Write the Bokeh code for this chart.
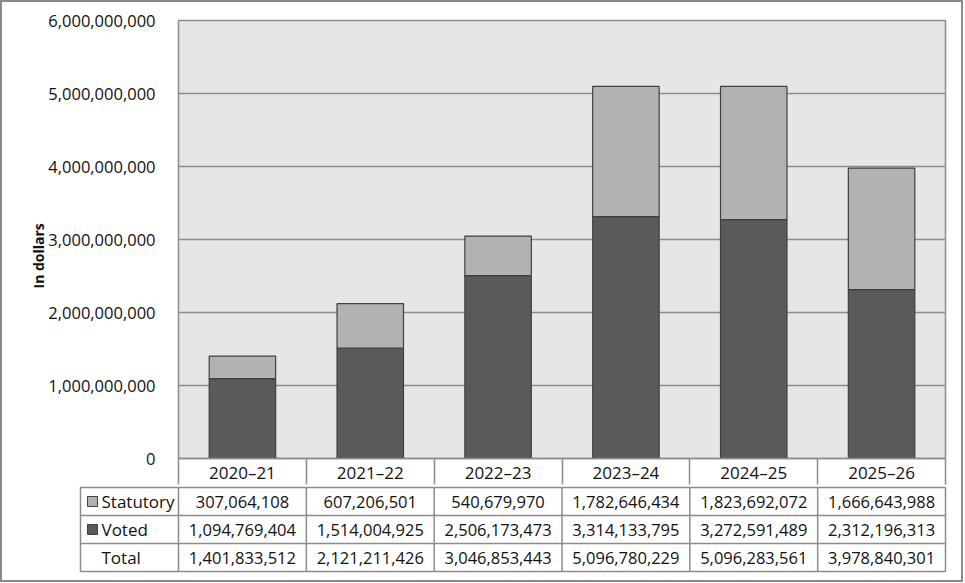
from bokeh.plotting import figure
from bokeh.models import ColumnDataSource, FixedTicker, NumeralTickFormatter, Range1d, InlineStyleSheet, Title
from bokeh.core.properties import value
from bokeh.embed import file_html
from bokeh.resources import INLINE

years = ["2020–21", "2021–22", "2022–23", "2023–24", "2024–25", "2025–26"]
statutory = [307064108, 607206501, 540679970, 1782646434, 1823692072, 1666643988]
voted = [1094769404, 1514004925, 2506173473, 3314133795, 3272591489, 2312196313]
total = [1401833512, 2121211426, 3046853443, 5096780229, 5096283561, 3978840301]
y_ticks = [0, 1000000000, 2000000000, 3000000000, 4000000000, 5000000000, 6000000000]
row_names = ["Statutory", "Voted", "Total"]
y_title = "In dollars"

FONT = "Open Sans"
C_STAT = "#b2b2b2"
C_VOTED = "#5a5a5a"
C_EDGE = "#404040"
C_GRID = "#8c8c8c"
C_TEXT = "#111111"
NUM_SIZE = "16.5px"
LAB_SIZE = "17px"

n = len(years)
xs = list(range(n))

src = ColumnDataSource(dict(x=xs, voted=voted, statutory=statutory))

top_frame_css = InlineStyleSheet(css=""":host::after { content: ''; position: absolute; left: 0; top: 0;
 right: 2px; bottom: 0; border: 2px solid #8a8a8a; border-bottom: none;
 box-sizing: border-box; pointer-events: none; z-index: 10; }""")
bottom_frame_css = InlineStyleSheet(css=""":host::after { content: ''; position: absolute; left: 0; top: 0;
 right: 2px; bottom: 1px; border: 2px solid #8a8a8a; border-top: none;
 box-sizing: border-box; pointer-events: none; z-index: 10; }""")

p = figure(width=965, height=486, output_backend="svg", toolbar_location=None,
           x_range=Range1d(-0.5, n - 0.5), y_range=Range1d(0, 6000000000),
           min_border_left=178, min_border_right=20, min_border_top=20, min_border_bottom=26,
           stylesheets=[top_frame_css])
p.background_fill_color = "#e6e6e6"
p.border_fill_color = "white"
p.outline_line_color = C_GRID
p.outline_line_width = 1.5

p.vbar_stack(["voted", "statutory"], x="x", width=0.52, source=src,
             color=[C_VOTED, C_STAT], line_color=C_EDGE, line_width=1.2)

p.xgrid.grid_line_color = None
p.ygrid.grid_line_color = C_GRID
p.ygrid.grid_line_width = 1.5
p.ygrid.ticker = FixedTicker(ticks=y_ticks)

ya = p.yaxis[0]
ya.ticker = FixedTicker(ticks=y_ticks)
ya.formatter = NumeralTickFormatter(format="0,0")
ya.axis_line_color = None
ya.major_tick_line_color = None
ya.minor_tick_line_color = None
ya.major_label_standoff = 17
ya.major_label_text_font = FONT
ya.major_label_text_font_size = NUM_SIZE
ya.major_label_text_color = C_TEXT

p.add_layout(Title(text=y_title, align="left", offset=170, standoff=-4,
                   text_font=FONT, text_font_size="14px", text_font_style="bold",
                   text_color=C_TEXT), "left")

xa = p.xaxis[0]
xa.ticker = FixedTicker(ticks=xs, minor_ticks=[i - 0.5 for i in range(n + 1)])
xa.major_label_overrides = {i: years[i] for i in xs}
xa.axis_line_color = C_GRID
xa.axis_line_width = 1.5
xa.major_tick_line_color = None
xa.major_tick_out = 0
xa.major_tick_in = 0
xa.minor_tick_line_color = C_GRID
xa.minor_tick_line_width = 1.5
xa.minor_tick_out = 26
xa.minor_tick_in = 0
xa.major_label_standoff = -24
xa.major_label_text_font = FONT
xa.major_label_text_font_size = LAB_SIZE
xa.major_label_text_color = C_TEXT

# ---- data table below ----
col_px = 767 / n
lab_px = 98
x0 = -0.5 - lab_px / col_px
t = figure(width=965, height=97, output_backend="svg", toolbar_location=None,
           x_range=Range1d(x0, n - 0.5), y_range=Range1d(0, 3),
           min_border_left=80, min_border_right=20, min_border_top=1, min_border_bottom=12,
           stylesheets=[bottom_frame_css])
t.axis.visible = False
t.grid.visible = False
t.background_fill_color = "white"
t.outline_line_color = C_GRID
t.outline_line_width = 1.5

vx = [i - 0.5 for i in range(n)]
t.segment(x0=vx, y0=[0] * n, x1=vx, y1=[3] * n, line_color=C_GRID, line_width=1.5)
t.segment(x0=[x0, x0], y0=[1, 2], x1=[n - 0.5, n - 0.5], y1=[1, 2], line_color=C_GRID, line_width=1.5)

rows = [statutory, voted, total]
for r, vals in enumerate(rows):
    yc = 2.5 - r
    t.text(x=xs, y=[yc] * n, text=[f"{v:,}" for v in vals], text_align="center",
           text_baseline="middle", text_font=value(FONT), text_font_size=NUM_SIZE,
           text_color=C_TEXT)

lab_x = x0 + 21 / col_px
sw_x = x0 + 12 / col_px
t.text(x=[lab_x] * 3, y=[2.5, 1.5, 0.5], text=row_names, text_align="left",
       text_baseline="middle", text_font=value(FONT), text_font_size=LAB_SIZE,
       text_color=C_TEXT)
t.scatter(x=[sw_x, sw_x], y=[2.5, 1.5], marker="square", size=10,
          fill_color=[C_STAT, C_VOTED], line_color=C_EDGE, line_width=1)

open("out.html", "w").write(file_html([p, t], INLINE))
